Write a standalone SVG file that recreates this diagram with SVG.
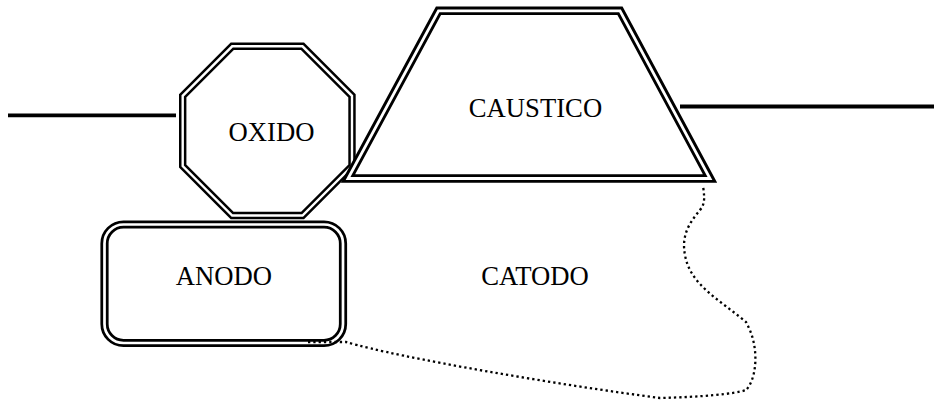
<svg xmlns="http://www.w3.org/2000/svg" width="934" height="400" viewBox="0 0 934 400">
<style>
.outer{fill:#fff;stroke:#000;stroke-linejoin:miter}
.inner{fill:none;stroke:#fff;stroke-linejoin:miter}
.lbl{font-family:"Liberation Serif","Times New Roman",serif;font-size:26.67px;fill:#000;text-anchor:middle}
.wire{fill:none;stroke:#000;stroke-width:3.8}
.dot{fill:none;stroke:#000;stroke-width:2.3;stroke-dasharray:2.3 3}
</style>
<rect width="934" height="400" fill="#fff"/>
<g id="oxido">
<polygon class="outer" stroke-width="7.4" points="232.2,46.3 302.5,46.3 352,95.8 352,166 302.5,215.5 232.2,215.5 182.7,166 182.7,95.8"/>
<polygon class="inner" stroke-width="2.4" points="232.2,46.3 302.5,46.3 352,95.8 352,166 302.5,215.5 232.2,215.5 182.7,166 182.7,95.8"/>
<text class="lbl" x="271.5" y="141">OXIDO</text>
</g>
<g id="caustico">
<polygon class="outer" stroke-width="8.6" points="438.5,10.8 620,10.8 710,178.5 348,178.5"/>
<polygon class="inner" stroke-width="2.8" points="438.5,10.8 620,10.8 710,178.5 348,178.5"/>
<text class="lbl" x="535.5" y="117">CAUSTICO</text>
</g>
<g id="anodo">
<rect class="outer" stroke-width="8.2" x="104.5" y="224.5" width="238.5" height="118.5" rx="19" ry="19"/>
<rect class="inner" stroke-width="2.7" x="104.5" y="224.5" width="238.5" height="118.5" rx="19" ry="19"/>
<text class="lbl" x="224" y="285">ANODO</text>
</g>
<g id="catodo">
<text class="lbl" x="535" y="285">CATODO</text>
</g>
<g id="connectors">
<line class="wire" x1="8" y1="115.3" x2="176" y2="115.3"/>
<line class="wire" x1="680" y1="106.5" x2="934" y2="106.5"/>
<path class="dot" d="M308,342 L346,342 C400,358 560,385 660,398 C700,397 735,394 746,390 C756,380 760,350 748,326 L746,322 C720,300 690,285 685,255 C681,235 690,222 700,210 C706,203 704,195 703,185"/>
</g>
</svg>
